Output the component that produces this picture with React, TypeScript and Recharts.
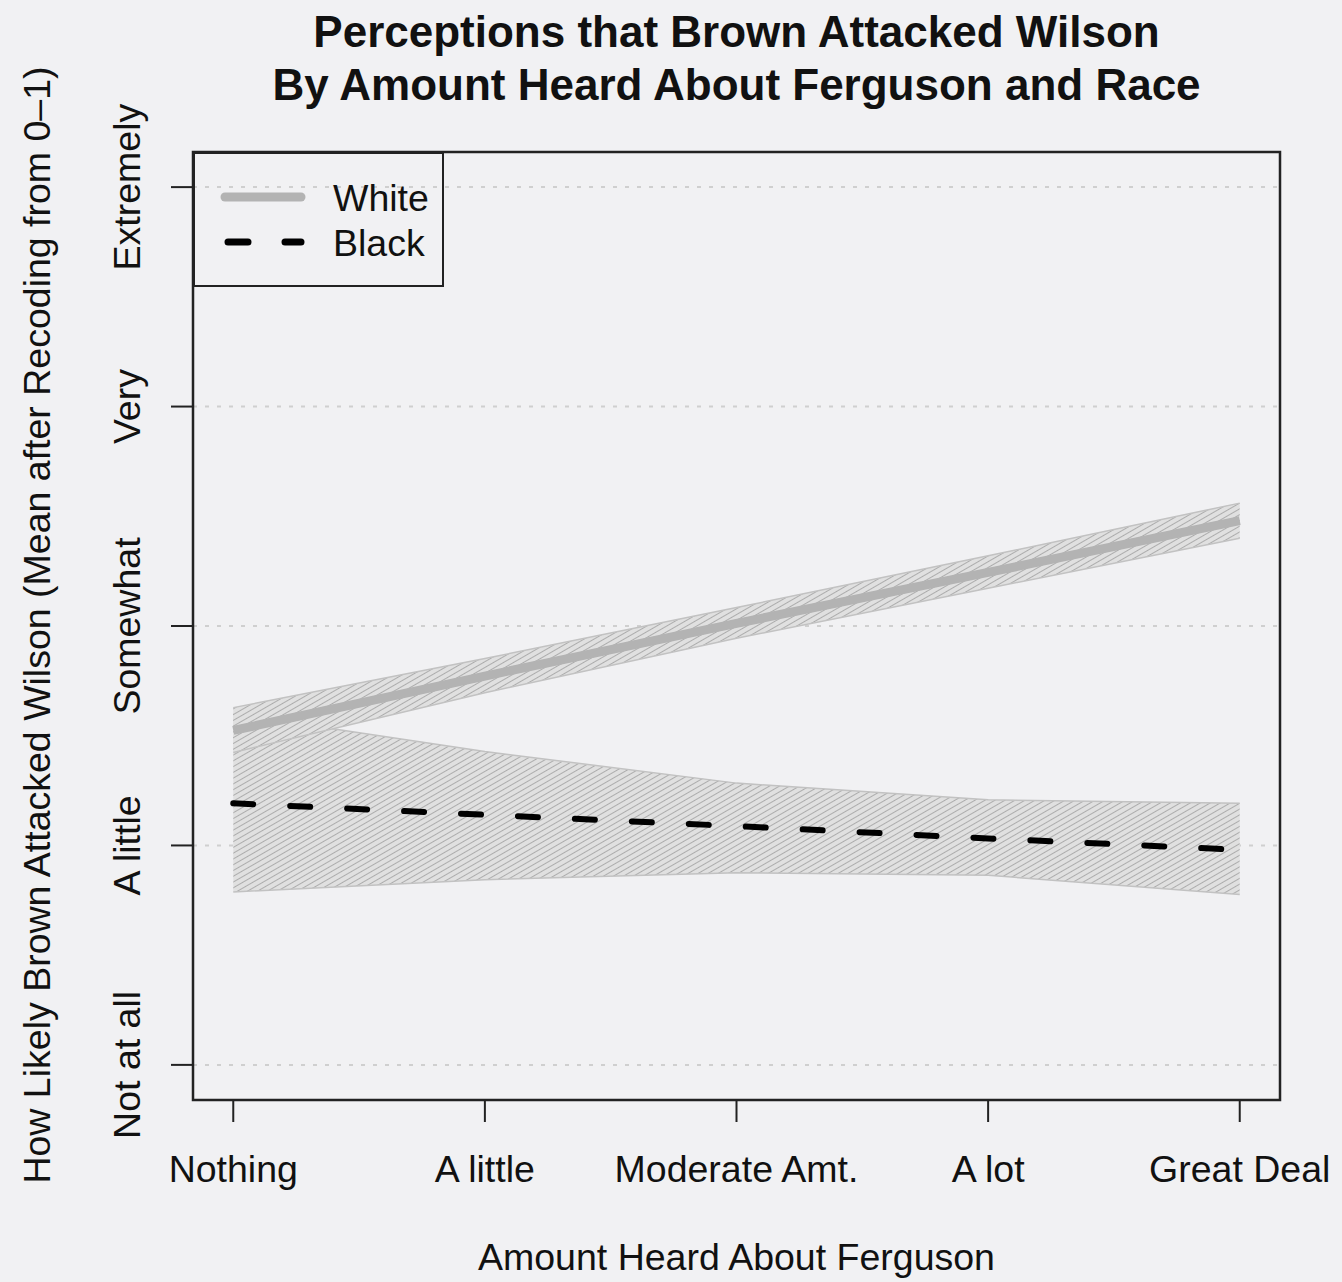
import {
  ComposedChart,
  Area,
  Line,
  XAxis,
  YAxis,
  CartesianGrid,
  ReferenceArea,
  Legend,
  Label,
} from "recharts";

const levels = ["Nothing", "A little", "Moderate Amt.", "A lot", "Great Deal"];
const likelyLabels = ["Not at all", "A little", "Somewhat", "Very", "Extremely"];
const likelyTicks = [0, 0.25, 0.5, 0.75, 1];

const whiteMean = [0.381, 0.443, 0.503, 0.561, 0.62];
const whiteLow = [0.356, 0.424, 0.486, 0.543, 0.6];
const whiteHigh = [0.407, 0.463, 0.521, 0.58, 0.64];

const blackMean = [0.298, 0.285, 0.272, 0.258, 0.245];
const blackLow = [0.197, 0.211, 0.219, 0.216, 0.194];
const blackHigh = [0.4, 0.357, 0.321, 0.302, 0.298];

const data = levels.map((name, i) => ({
  x: i,
  name,
  white: whiteMean[i],
  whiteBand: [whiteLow[i], whiteHigh[i]],
  black: blackMean[i],
  blackBand: [blackLow[i], blackHigh[i]],
}));

const FONT = "'Liberation Sans', Arial, Helvetica, sans-serif";
const BG = "#f1f1f3";

const XTick = ({ x, y, payload }: any) => (
  <text
    x={x}
    y={y + 60}
    textAnchor="middle"
    fontFamily={FONT}
    fontSize={37.5}
    fill="#111"
  >
    {levels[payload.value]}
  </text>
);

const YTick = ({ x, y, payload }: any) => {
  const idx = likelyTicks.indexOf(payload.value);
  const tx = x - 31;
  return (
    <text
      x={tx}
      y={y}
      transform={`rotate(-90, ${tx}, ${y})`}
      textAnchor="middle"
      fontFamily={FONT}
      fontSize={37.5}
      fill="#111"
    >
      {likelyLabels[idx]}
    </text>
  );
};

const LegendBox = () => (
  <div
    style={{
      width: 251,
      height: 135,
      boxSizing: "border-box",
      border: "2.5px solid #222",
    }}
  >
    <svg width={246} height={130} style={{ display: "block" }}>
      <line x1={30} y1={43} x2={106} y2={43} stroke="#b3b3b3" strokeWidth={9} strokeLinecap="round" />
      <line
        x1={33}
        y1={88}
        x2={106}
        y2={88}
        stroke="#000"
        strokeWidth={7}
        strokeLinecap="round"
        strokeDasharray="20 37"
      />
      <text x={138} y={57} fontFamily={FONT} fontSize={37.5} fill="#111">
        White
      </text>
      <text x={138} y={102} fontFamily={FONT} fontSize={37.5} fill="#111">
        Black
      </text>
    </svg>
  </div>
);

export default function App() {
  return (
    <div
      style={{
        position: "absolute",
        left: 0,
        top: 0,
        width: 1342,
        height: 1282,
        background: BG,
        fontFamily: FONT,
      }}
    >
      <div
        style={{
          position: "absolute",
          left: 0,
          width: 1473,
          top: 5,
          textAlign: "center",
          fontWeight: "bold",
          fontSize: 44,
          lineHeight: "53px",
          color: "#111",
        }}
      >
        <div>Perceptions that Brown Attacked Wilson</div>
        <div>By Amount Heard About Ferguson and Race</div>
      </div>
      <ComposedChart
        width={1342}
        height={1282}
        data={data}
        margin={{ top: 152, right: 62, bottom: 0, left: 0 }}
        style={{ position: "absolute", left: 0, top: 0 }}
      >
        <defs>
          <pattern
            id="hatch"
            width={5}
            height={5}
            patternUnits="userSpaceOnUse"
            patternTransform="rotate(60)"
          >
            <rect width={5} height={5} fill="#e0e0e0" />
            <line x1={0} y1={0} x2={0} y2={5} stroke="#acacac" strokeWidth={2} />
          </pattern>
        </defs>
        <CartesianGrid
          vertical={false}
          stroke="#cfcfcf"
          strokeWidth={2}
          strokeDasharray="4 8"
        />
        <XAxis
          dataKey="x"
          type="number"
          domain={[-0.16, 4.16]}
          ticks={[0, 1, 2, 3, 4]}
          allowDataOverflow
          height={182}
          axisLine={false}
          tickLine={{ stroke: "#222", strokeWidth: 2 }}
          tickSize={22}
          tickMargin={0}
          tick={<XTick />}
        >
          <Label
            content={({ viewBox }: any) => (
              <text
                x={viewBox.x + viewBox.width / 2}
                y={viewBox.y + 170}
                textAnchor="middle"
                fontFamily={FONT}
                fontSize={37.5}
                fill="#111"
              >
                Amount Heard About Ferguson
              </text>
            )}
          />
        </XAxis>
        <YAxis
          type="number"
          domain={[-0.04, 1.04]}
          ticks={likelyTicks}
          allowDataOverflow
          width={193}
          axisLine={false}
          tickLine={{ stroke: "#222", strokeWidth: 2 }}
          tickSize={22}
          tickMargin={0}
          tick={<YTick />}
        >
          <Label
            content={({ viewBox }: any) => {
              const lx = viewBox.x + 50;
              const ly = viewBox.y + viewBox.height / 2 - 1;
              return (
                <text
                  x={lx}
                  y={ly}
                  transform={`rotate(-90, ${lx}, ${ly})`}
                  textAnchor="middle"
                  fontFamily={FONT}
                  fontSize={37.5}
                  fill="#111"
                >
                  How Likely Brown Attacked Wilson (Mean after Recoding from 0–1)
                </text>
              );
            }}
          />
        </YAxis>
        <Area
          type="linear"
          dataKey="blackBand"
          fill="url(#hatch)"
          fillOpacity={1}
          stroke="#c2c2c2"
          strokeWidth={1.5}
          isAnimationActive={false}
        />
        <Area
          type="linear"
          dataKey="whiteBand"
          fill="url(#hatch)"
          fillOpacity={1}
          stroke="#c2c2c2"
          strokeWidth={1.5}
          isAnimationActive={false}
        />
        <Line
          type="linear"
          dataKey="white"
          stroke="#b3b3b3"
          strokeWidth={9}
          dot={false}
          activeDot={false}
          isAnimationActive={false}
        />
        <Line
          type="linear"
          dataKey="black"
          stroke="#000"
          strokeWidth={6}
          strokeLinecap="round"
          strokeDasharray="20 37"
          dot={false}
          activeDot={false}
          isAnimationActive={false}
        />
        <ReferenceArea
          x1={-0.16}
          x2={4.16}
          y1={-0.04}
          y2={1.04}
          fill="none"
          stroke="#222"
          strokeWidth={2.5}
          ifOverflow="visible"
        />
        <Legend
          layout="horizontal"
          verticalAlign="middle"
          align="center"
          content={<LegendBox />}
          wrapperStyle={{ position: "absolute", left: 193, top: 152, width: 251, height: 135 }}
        />
      </ComposedChart>
    </div>
  );
}
